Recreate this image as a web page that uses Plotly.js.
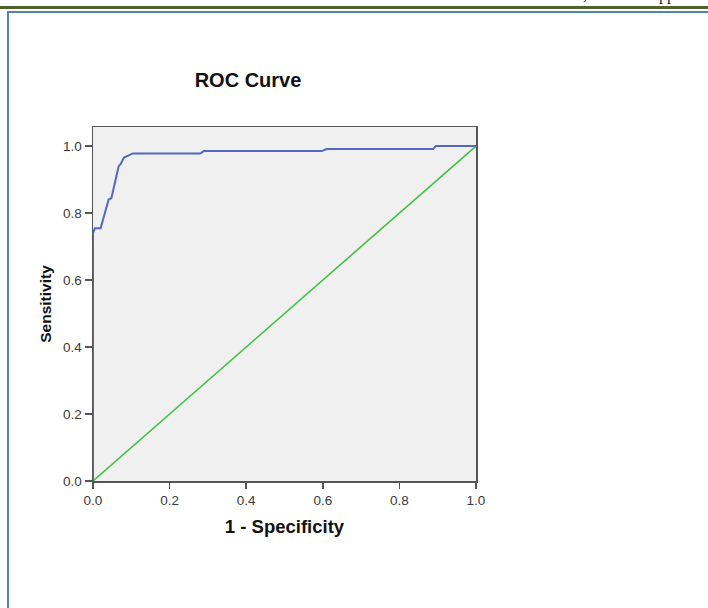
<!DOCTYPE html>
<html>
<head>
<meta charset="utf-8">
<script src="https://cdn.plot.ly/plotly-3.0.1.min.js"></script>
<style>
  html, body { margin: 0; padding: 0; background: #ffffff; }
  #wrap { position: relative; width: 708px; height: 608px; overflow: hidden; background: #ffffff; }
  #chart { position: absolute; left: 0; top: 0; width: 708px; height: 608px; }
  .deco { position: absolute; }
  .hdr { position: absolute; top: -13px; font-family: "Liberation Serif", "DejaVu Serif", serif; font-size: 16px; line-height: 16px; color: #222; }
</style>
</head>
<body>
<div id="wrap">
  <div id="chart"></div>
  <div class="deco" style="left:0; top:6px; width:708px; height:3px; background:#4f6228;"></div>
  <div class="deco" style="left:7px; top:11px; width:701px; height:2px; background:#4f81bd;"></div>
  <div class="deco" style="left:7px; top:11px; width:2px; height:597px; background:#4f81bd;"></div>
  <div class="hdr" style="left:583px;">,</div>
  <div class="hdr" style="left:659px;">pp</div>
</div>
<script>
// ROC curve
const fpr = [0, 0, 0.005, 0.020, 0.041, 0.048, 0.067, 0.072, 0.081, 0.093, 0.104, 0.280, 0.289, 0.597, 0.610, 0.888, 0.895, 1.0];
const tpr = [0, 0.74, 0.755, 0.755, 0.841, 0.844, 0.940, 0.946, 0.966, 0.973, 0.978, 0.978, 0.985, 0.985, 0.991, 0.991, 1.0, 1.0];
// Reference diagonal
const refX = [0, 1];
const refY = [0, 1];
const tickVals = [0, 0.2, 0.4, 0.6, 0.8, 1.0];
const tickText = ["0.0", "0.2", "0.4", "0.6", "0.8", "1.0"];

const traces = [
  { x: refX, y: refY, type: 'scatter', mode: 'lines', line: { color: '#44c044', width: 1.6 }, hoverinfo: 'skip', cliponaxis: false },
  { x: fpr, y: tpr, type: 'scatter', mode: 'lines', line: { color: '#5568c0', width: 2 }, hoverinfo: 'skip', cliponaxis: false }
];

const tickFont = { family: 'Liberation Sans, Arial, sans-serif', size: 13.5, color: '#3a3a3a' };
const layout = {
  width: 708, height: 608,
  margin: { l: 93, r: 232, t: 127, b: 127, pad: 0 },
  paper_bgcolor: 'rgba(0,0,0,0)',
  plot_bgcolor: '#f0f0f0',
  showlegend: false,
  title: {
    text: '<b>ROC Curve</b>',
    font: { family: 'Liberation Sans, Arial, sans-serif', size: 20, color: '#111111' },
    x: 248 / 708, xref: 'container', xanchor: 'center',
    y: 1 - 80 / 608, yref: 'container', yanchor: 'middle'
  },
  xaxis: {
    range: [0, 1],
    tickvals: tickVals, ticktext: tickText,
    ticks: 'outside', ticklen: 6, tickcolor: '#555555', tickwidth: 1.5,
    showline: true, linecolor: '#555555', linewidth: 1.5, mirror: true,
    showgrid: false, zeroline: false,
    tickfont: tickFont,
    title: { text: '<b>1 - Specificity</b>', font: { family: 'Liberation Sans, Arial, sans-serif', size: 18.5, color: '#111111' }, standoff: 13 }
  },
  yaxis: {
    range: [0, 1.057],
    tickvals: tickVals, ticktext: tickText,
    ticks: 'outside', ticklen: 7, tickcolor: '#555555', tickwidth: 1.5,
    showline: true, linecolor: '#555555', linewidth: 1.5, mirror: true,
    showgrid: false, zeroline: false,
    tickfont: tickFont,
    title: { text: '<b>Sensitivity</b>', font: { family: 'Liberation Sans, Arial, sans-serif', size: 15.5, color: '#111111' }, standoff: 7 }
  }
};

Plotly.newPlot('chart', traces, layout, { staticPlot: true, displayModeBar: false });
</script>
</body>
</html>
